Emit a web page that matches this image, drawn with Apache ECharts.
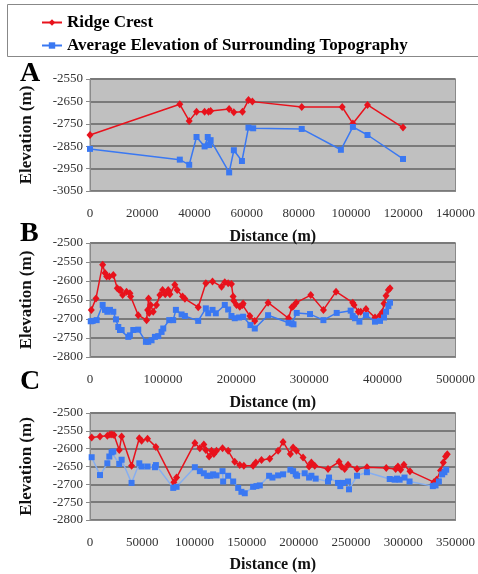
<!DOCTYPE html>
<html>
<head>
<meta charset="utf-8">
<script src="https://cdn.jsdelivr.net/npm/echarts@6/dist/echarts.min.js"></script>
<style>
  html, body { margin: 0; padding: 0; background: #fff; }
  #chart { width: 478px; height: 574px; }
</style>
</head>
<body>
<div id="chart"></div>
<script>
// panel A: [distance (m), elevation (m)]
var ridgeA = [[0,-2800],[34400,-2663],[38000,-2737],[40800,-2696],[43900,-2696],[45400,-2696],[46200,-2693],
  [53300,-2684],[55100,-2698],[58400,-2696],[60700,-2644],[62200,-2651],[81100,-2675],[96600,-2675],
  [100700,-2749],[106300,-2666],[119900,-2767]];
var avgA = [[0,-2862],[34400,-2910],[38000,-2933],[40800,-2809],[43900,-2851],[45100,-2809],[45600,-2845],
  [46200,-2823],[53300,-2967],[55100,-2868],[58200,-2916],[60700,-2767],[62500,-2770],[81100,-2773],
  [96100,-2866],[100700,-2764],[106300,-2800],[119900,-2907]];

// panel B
var ridgeB = [[1800,-2676],[8200,-2646],[17300,-2557],[20500,-2579],[22800,-2588],[26400,-2588],[31900,-2584],
  [37300,-2619],[40000,-2624],[41900,-2624],[44600,-2637],[50000,-2628],[54600,-2632],[55600,-2641],
  [66000,-2690],[77400,-2703],[78800,-2676],[80100,-2646],[81000,-2684],[82900,-2663],[86500,-2681],
  [91000,-2663],[95600,-2637],[99300,-2624],[102900,-2635],[107000,-2624],[109300,-2635],[116000,-2610],
  [119300,-2624],[126600,-2641],[129800,-2647],[148000,-2669],[158500,-2606],[167600,-2601],[179900,-2615],
  [184400,-2603],[189000,-2606],[193500,-2608],[195800,-2641],[196700,-2652],[200400,-2663],[204900,-2668],
  [208600,-2663],[209500,-2659],[218600,-2692],[225400,-2705],[243600,-2657],[271600,-2698],[276100,-2669],
  [278400,-2666],[282000,-2657],[302000,-2637],[319300,-2676],[336600,-2628],[359400,-2657],[361200,-2663],
  [367100,-2681],[370300,-2681],[377600,-2674],[389900,-2696],[396700,-2690],[400400,-2681],[402200,-2659],
  [405000,-2639],[408200,-2624],[410400,-2619]];
var avgB = [[1000,-2706],[3600,-2705],[9100,-2703],[17300,-2663],[20500,-2676],[23700,-2681],[27300,-2676],
  [31900,-2681],[35500,-2701],[38700,-2721],[41000,-2729],[43300,-2729],[52400,-2747],[54600,-2743],
  [59200,-2729],[66000,-2728],[76500,-2760],[79700,-2760],[84200,-2756],[88800,-2747],[93400,-2745],
  [97900,-2734],[100200,-2725],[108400,-2703],[113800,-2703],[117500,-2676],[125300,-2688],[129800,-2692],
  [148000,-2705],[158500,-2672],[161700,-2685],[167600,-2676],[172100,-2685],[184400,-2663],[189000,-2675],
  [193500,-2692],[198000,-2698],[204000,-2696],[209500,-2694],[219500,-2716],[225400,-2725],[243600,-2690],
  [271600,-2710],[276000,-2712],[278400,-2714],[282800,-2684],[301000,-2687],[319300,-2703],[337500,-2684],
  [356600,-2678],[359400,-2692],[362500,-2698],[368500,-2707],[377600,-2690],[389900,-2707],[396700,-2705],
  [402200,-2696],[405000,-2681],[408200,-2666],[410400,-2657]];

// panel C
var ridgeC = [[1600,-2569],[9600,-2566],[16600,-2564],[19100,-2560],[21000,-2560],[23000,-2562],[28000,-2604],
  [30300,-2566],[39800,-2648],[47200,-2571],[49400,-2578],[55100,-2572],[63100,-2595],[80300,-2694],
  [82900,-2681],[100400,-2584],[105200,-2599],[109000,-2588],[110900,-2604],[114100,-2622],[116400,-2606],
  [118600,-2615],[121100,-2606],[126900,-2599],[132300,-2606],[138600,-2637],[143400,-2646],[147300,-2648],
  [156200,-2648],[158800,-2639],[164200,-2632],[172100,-2628],[180100,-2606],[184900,-2581],[191900,-2615],
  [194500,-2597],[197700,-2606],[204000,-2625],[209800,-2650],[212000,-2639],[215200,-2648],[227900,-2657],
  [238500,-2637],[240700,-2650],[243900,-2657],[247100,-2645],[255700,-2657],[265200,-2652],[283700,-2654],
  [292700,-2657],[294900,-2650],[297400,-2659],[300600,-2645],[306400,-2663],[329300,-2694],[331900,-2687],
  [335700,-2661],[338300,-2639],[340500,-2622],[342100,-2616]];
var avgC = [[1600,-2624],[9600,-2674],[16600,-2641],[18500,-2622],[20700,-2610],[22300,-2608],[28000,-2643],
  [30300,-2631],[39800,-2696],[47200,-2641],[49400,-2650],[55100,-2650],[62200,-2652],[63100,-2646],
  [79700,-2710],[82900,-2707],[100400,-2652],[105200,-2663],[109000,-2669],[112200,-2676],[115400,-2676],
  [117900,-2672],[121100,-2675],[126900,-2663],[127500,-2692],[132300,-2676],[137100,-2692],[141900,-2710],
  [145000,-2721],[148200,-2725],[156200,-2707],[159400,-2705],[162600,-2703],[171500,-2676],[174700,-2681],
  [180100,-2675],[184900,-2672],[191900,-2659],[194500,-2663],[197000,-2672],[198300,-2676],[205600,-2669],
  [209800,-2681],[212000,-2676],[216100,-2684],[227900,-2692],[228900,-2681],[237500,-2696],[239700,-2705],
  [242300,-2696],[247100,-2692],[248000,-2714],[255700,-2676],[265200,-2666],[287000,-2685],[291700,-2687],
  [294000,-2684],[296500,-2687],[301200,-2681],[306000,-2692],[328300,-2705],[330900,-2703],[334100,-2692],
  [337200,-2672],[339400,-2666],[341100,-2659]];

var xMaxes = [140000, 500000, 350000];
var xSteps = [20000, 100000, 50000];
var yMins = [-3050, -2800, -2800];
var yMaxes = [-2550, -2500, -2500];
var ySteps = [100, 50, 50];

var RED = '#e8121c';
var BLUE = '#3a78f2';
var SERIF = '"Liberation Serif", "DejaVu Serif", serif';

var chart = echarts.init(document.getElementById('chart'));

// plain numbers, no thousands separators
function plain(v) { return String(v); }

var tops = [79, 243, 413];
var heights = [112, 114, 114];
var grids = [], xAxes = [], yAxes = [];
for (var i = 0; i < 3; i++) {
  grids.push({ left: 90, width: 367, top: tops[i], height: heights[i],
    show: true, backgroundColor: '#c0c0c0', borderColor: '#8a8a8a', borderWidth: 1 });
  xAxes.push({
    gridIndex: i, type: 'value', min: 0, max: xMaxes[i], interval: xSteps[i],
    name: 'Distance (m)', nameLocation: 'middle', nameGap: i === 2 ? 37 : 38,
    nameTextStyle: { fontFamily: SERIF, fontWeight: 'bold', fontSize: 16, color: '#111' },
    axisLine: { lineStyle: { color: '#8a8a8a' } },
    axisTick: { show: false },
    axisLabel: { fontFamily: SERIF, fontSize: 13, color: '#333', margin: 16, formatter: plain },
    splitLine: { show: false }
  });
  yAxes.push({
    gridIndex: i, type: 'value', min: yMins[i], max: yMaxes[i], interval: ySteps[i],
    name: 'Elevation (m)', nameLocation: 'middle', nameGap: 55,
    nameTextStyle: { fontFamily: SERIF, fontWeight: 'bold', fontSize: 17, color: '#111' },
    axisLine: { show: true, lineStyle: { color: '#8a8a8a' } },
    axisTick: { show: true, length: 4, lineStyle: { color: '#8a8a8a' } },
    axisLabel: { fontFamily: SERIF, fontSize: 13, color: '#333', margin: 7, formatter: plain },
    splitLine: { lineStyle: { color: '#7a7a7a', width: 2 } }
  });
}

function ridge(name, data, idx) {
  return { name: name, type: 'line', xAxisIndex: idx, yAxisIndex: idx, data: data,
    symbol: 'diamond', symbolSize: [7, 8], showSymbol: true,
    lineStyle: { color: RED, width: 1.5 }, itemStyle: { color: RED } };
}
function avg(name, data, idx, lineColor) {
  return { name: name, type: 'line', xAxisIndex: idx, yAxisIndex: idx, data: data,
    symbol: 'rect', symbolSize: 6, showSymbol: true,
    lineStyle: { color: lineColor, width: 1.5 }, itemStyle: { color: BLUE } };
}

var labelStyle = { fontFamily: SERIF, fontWeight: 'bold', fontSize: 28, fill: '#000' };

chart.setOption({
  animation: false,
  grid: grids,
  xAxis: xAxes,
  yAxis: yAxes,
  legend: {
    orient: 'vertical', left: 36, top: 9, itemGap: 6, itemWidth: 20, itemHeight: 8,
    data: ['Ridge Crest', 'Average Elevation of Surrounding Topography'],
    textStyle: { fontFamily: SERIF, fontWeight: 'bold', fontSize: 17, color: '#000' }
  },
  graphic: [
    { type: 'rect', shape: { x: 7.5, y: 4.5, width: 480, height: 52 },
      style: { fill: 'none', stroke: '#888', lineWidth: 1 } },
    { type: 'text', left: 20, top: 60, style: Object.assign({ text: 'A' }, labelStyle) },
    { type: 'text', left: 20, top: 220, style: Object.assign({ text: 'B' }, labelStyle) },
    { type: 'text', left: 20, top: 368, style: Object.assign({ text: 'C' }, labelStyle) }
  ],
  series: [
    ridge('Ridge Crest', ridgeA, 0),
    avg('Average Elevation of Surrounding Topography', avgA, 0, BLUE),
    ridge('Ridge Crest', ridgeB, 1),
    avg('Average Elevation of Surrounding Topography', avgB, 1, BLUE),
    ridge('Ridge Crest', ridgeC, 2),
    avg('Average Elevation of Surrounding Topography', avgC, 2, '#86aef0')
  ]
});
</script>
</body>
</html>
